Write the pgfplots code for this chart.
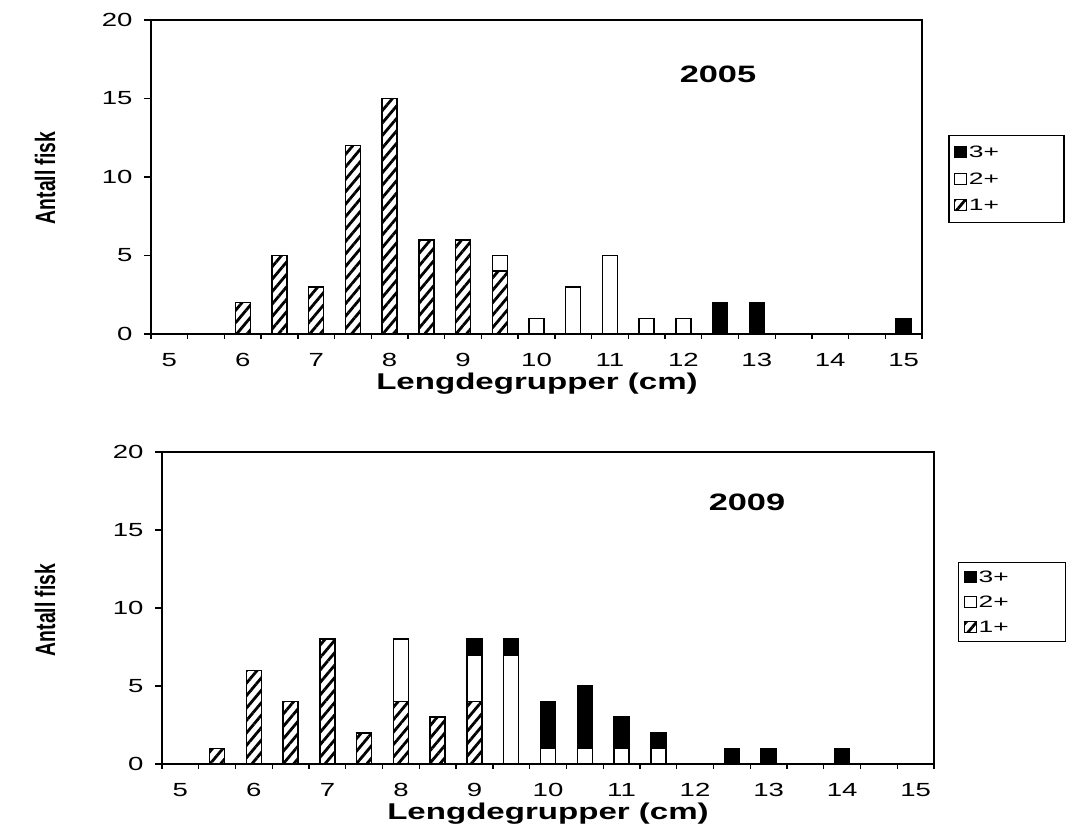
\documentclass[border=0pt]{standalone}
\usepackage{fontspec}
\setmainfont[FakeStretch=1.45]{Liberation Sans}
\newfontfamily\rotfont[FakeStretch=0.69]{Liberation Sans}
\newfontfamily\legfont[FakeStretch=1.6]{Liberation Sans}
\usepackage{pgfplots}
\usepackage{pgfplotstable}
\pgfplotsset{compat=1.18}
\usetikzlibrary{patterns.meta}

\pgfplotstableread{
x a b c
5 0 0 0
5.5 0 0 0
6 2 0 0
6.5 5 0 0
7 3 0 0
7.5 12 0 0
8 15 0 0
8.5 6 0 0
9 6 0 0
9.5 4 1 0
10 0 1 0
10.5 0 3 0
11 0 5 0
11.5 0 1 0
12 0 1 0
12.5 0 0 2
13 0 0 2
13.5 0 0 0
14 0 0 0
14.5 0 0 0
15 0 0 1
}\topdata

\pgfplotstableread{
x a b c
5 0 0 0
5.5 1 0 0
6 6 0 0
6.5 4 0 0
7 8 0 0
7.5 2 0 0
8 4 4 0
8.5 3 0 0
9 4 3 1
9.5 0 7 1
10 0 1 3
10.5 0 1 4
11 0 1 2
11.5 0 1 1
12 0 0 0
12.5 0 0 1
13 0 0 1
13.5 0 0 0
14 0 0 1
14.5 0 0 0
15 0 0 0
}\botdata

\pgfplotsset{
  myax/.style={
    scale only axis,
    ybar stacked, bar width=15bp,
    xmin=4.75, xmax=15.25, ymin=0, ymax=20,
    xtick={5,6,...,15}, ytick={0,5,10,15,20},
    minor xtick={4.75,5.25,5.75,6.25,6.75,7.25,7.75,8.25,8.75,9.25,9.75,10.25,10.75,11.25,11.75,12.25,12.75,13.25,13.75,14.25,14.75,15.25},
    xtick pos=bottom, ytick pos=left,
    tick align=outside,
    major tick length=7bp, minor tick length=5bp,
    major x tick style={draw=none},
    minor x tick style={line width=1.3bp, black},
    major y tick style={line width=1.3bp, black},
    axis line style={line width=1.3bp},
    /pgf/number format/assume math mode=true,
    tick label style={font=\fontsize{19bp}{21bp}\selectfont},
    xticklabel style={yshift=-9bp},
    yticklabel style={xshift=-8bp},
    reverse legend,
    legend cell align=left,
    legend style={anchor=north west, draw=black, line width=1.3bp,
      font=\legfont\fontsize{16.5bp}{18bp}\selectfont,
      inner xsep=5bp, inner ysep=8bp, row sep=10bp},
    legend image code/.code={\draw[#1, line width=1bp] (0bp,-5bp) rectangle (12bp,6bp);},
  },
  b1/.style={draw=black, line width=1.5bp, pattern={Lines[angle=50, distance=8bp, line width=2.8bp]}},
  b2/.style={draw=black, line width=1.5bp, fill=white},
  b3/.style={draw=black, line width=1.5bp, fill=black},
}

\begin{document}
\begin{tikzpicture}
\useasboundingbox (0,0) rectangle (1070bp,840bp);
% top panel
\begin{axis}[myax, at={(151bp,506bp)}, anchor=south west, width=771bp, height=314bp,
  legend style={at={(1.034,0.634)}}]
\addplot[b1] table[x=x,y=a]{\topdata};
\addplot[b2] table[x=x,y=b]{\topdata};
\addplot[b3] table[x=x,y=c]{\topdata};
\legend{1+\hspace*{58bp},2+\hspace*{58bp},3+\hspace*{58bp}}
\draw[line width=2.4bp] (rel axis cs:0,1) -- (rel axis cs:0,0) -- (rel axis cs:1,0) -- (rel axis cs:1,1);
\end{axis}
% bottom panel
\begin{axis}[myax, at={(162bp,76bp)}, anchor=south west, width=772bp, height=312bp,
  legend style={at={(1.031,0.647)}, inner ysep=6bp, row sep=8bp}]
\addplot[b1] table[x=x,y=a]{\botdata};
\addplot[b2] table[x=x,y=b]{\botdata};
\addplot[b3] table[x=x,y=c]{\botdata};
\legend{1+\hspace*{50bp},2+\hspace*{50bp},3+\hspace*{50bp}}
\draw[line width=2.4bp] (rel axis cs:0,1) -- (rel axis cs:0,0) -- (rel axis cs:1,0) -- (rel axis cs:1,1);
\end{axis}
% titles and labels
\node[font=\bfseries\fontsize{23.7bp}{26bp}\selectfont] at (718bp,766bp) {2005};
\node[font=\bfseries\fontsize{23.7bp}{26bp}\selectfont] at (747bp,338bp) {2009};
\node[font=\bfseries\fontsize{22.8bp}{25bp}\selectfont] at (537bp,456bp) {Lengdegrupper (cm)};
\node[font=\bfseries\fontsize{22.8bp}{25bp}\selectfont] at (548bp,26bp) {Lengdegrupper (cm)};
\node[rotate=90, font=\rotfont\bfseries\fontsize{28bp}{30bp}\selectfont] at (45bp,662bp) {Antall fisk};
\node[rotate=90, font=\rotfont\bfseries\fontsize{28bp}{30bp}\selectfont] at (45bp,230bp) {Antall fisk};
\end{tikzpicture}
\end{document}
